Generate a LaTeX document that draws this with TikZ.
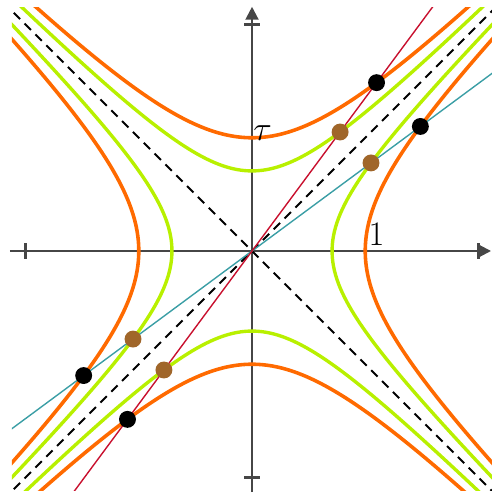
\documentclass[tikz,border=0pt]{standalone}
\usepackage{amsmath,amssymb}
\usepackage{tikz}
\usetikzlibrary{positioning}
\usetikzlibrary{arrows.meta}
\usetikzlibrary{calc}
\definecolor{hypOrange}{RGB}{255,106,0}
\definecolor{hypGreen}{RGB}{184,240,0}
\definecolor{dotBrown}{RGB}{160,102,42}
\definecolor{lineRed}{RGB}{200,16,46}
\definecolor{lineTeal}{RGB}{58,158,165}
\definecolor{axisGray}{RGB}{70,70,70}
\tikzset{
  axis/.style={draw=axisGray, line width=1.1pt},
  tick/.style={draw=axisGray, line width=1.1pt},
  asym/.style={draw=black, line width=1pt, dash pattern=on 4.5pt off 3.2pt},
  hypO/.style={draw=hypOrange, line width=1.8pt},
  hypG/.style={draw=hypGreen, line width=1.7pt},
  wline/.style={draw=lineRed, line width=0.7pt},
  sline/.style={draw=lineTeal, line width=0.7pt},
  evdot/.style={circle, inner sep=0pt, minimum size=8.5pt},
  lbl/.style={inner sep=0pt, font=\fontsize{17}{19}\selectfont}
}

\begin{document}
\begin{tikzpicture}[x=2cm,y=2cm]
  \useasboundingbox (-2.226,-2.164) rectangle (2.111,2.217);

  \coordinate (O)  at (0,0);
  \coordinate (XL) at (-2.138,0);
  \coordinate (XR) at (2.111,0);
  \coordinate (YB) at (0,-2.13);
  \coordinate (YT) at (0,2.157);

  % axes
  \draw[axis, -{Triangle[length=6.5pt,width=6.5pt]}] (XL) -- (XR);
  \draw[axis, -{Triangle[length=6.5pt,width=6.5pt]}] (YB) -- (YT);
  \draw[tick] (-2,-0.069) -- (-2,0.069);
  \draw[tick] (2,-0.069) -- (2,0.069);
  \draw[tick] (-0.069,-2) -- (0.069,-2);
  \draw[tick] (-0.069,2) -- (0.069,2);

\begin{scope}
  \clip (-2.12,-2.115) rectangle (2.13,2.155);

  \coordinate (A1) at (-2.2,-2.2);
  \coordinate (A2) at (2.2,2.2);
  \coordinate (A3) at (-2.2,2.2);
  \coordinate (A4) at (2.2,-2.2);
  \draw[asym] (A1) -- (A2);
  \draw[asym] (A3) -- (A4);

  % hyperbolas
  \draw[hypG] plot[domain=-2.3:2.3, samples=120] ({\x},{sqrt(0.5+\x*\x)});
  \draw[hypG] plot[domain=-2.3:2.3, samples=120] ({\x},{-sqrt(0.5+\x*\x)});
  \draw[hypG] plot[domain=-2.3:2.3, samples=120] ({sqrt(0.5+\x*\x)},{\x});
  \draw[hypG] plot[domain=-2.3:2.3, samples=120] ({-sqrt(0.5+\x*\x)},{\x});
  \draw[hypO] plot[domain=-2.3:2.3, samples=120] ({\x},{sqrt(1+\x*\x)});
  \draw[hypO] plot[domain=-2.3:2.3, samples=120] ({\x},{-sqrt(1+\x*\x)});
  \draw[hypO] plot[domain=-2.3:2.3, samples=120] ({sqrt(1+\x*\x)},{\x});
  \draw[hypO] plot[domain=-2.3:2.3, samples=120] ({-sqrt(1+\x*\x)},{\x});

  \coordinate (R1) at (-1.628,-2.2);
  \coordinate (R2) at (1.628,2.2);
  \coordinate (S1) at (-2.2,-1.628);
  \coordinate (S2) at (2.2,1.628);
  \draw[sline] (S1) -- (S2);
  \draw[wline] (R1) -- (R2);
\end{scope}

  \node[evdot, fill=dotBrown] (G1) at (0.778,1.051)   {};
  \node[evdot, fill=dotBrown] (G2) at (1.051,0.778)   {};
  \node[evdot, fill=dotBrown] (G3) at (-0.778,-1.051) {};
  \node[evdot, fill=dotBrown] (G4) at (-1.051,-0.778) {};
  \node[evdot, fill=black]    (B1) at (1.100,1.487)   {};
  \node[evdot, fill=black]    (B2) at (1.487,1.100)   {};
  \node[evdot, fill=black]    (B3) at (-1.100,-1.487) {};
  \node[evdot, fill=black]    (B4) at (-1.487,-1.100) {};

  \node[lbl] (tau) at (0.093,1.045) {$\tau$};
  \node[lbl] (one) at (1.10,0.146)  {$1$};
\end{tikzpicture}
\end{document}
